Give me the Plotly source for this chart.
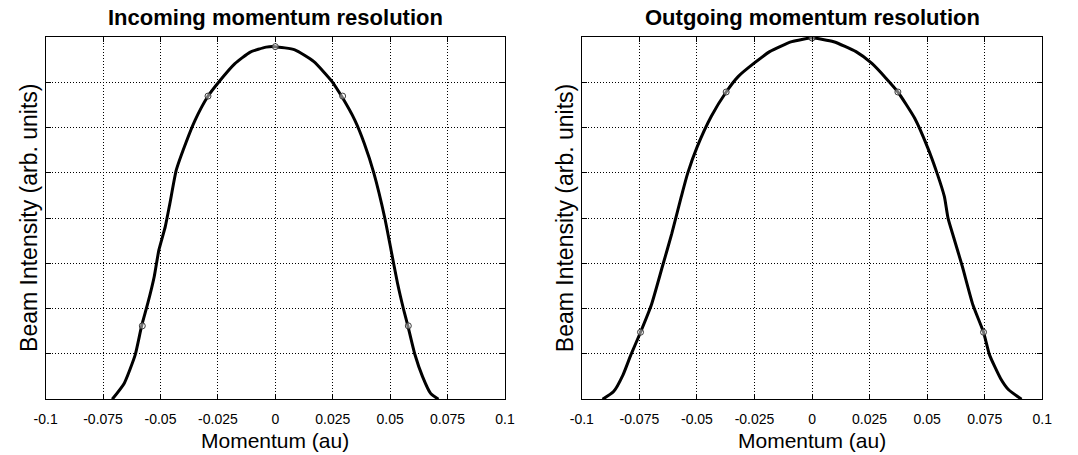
import plotly.graph_objects as go

# Incoming beam profile (momentum in au, intensity in arb. units)
incoming_x = [-0.0710, -0.0658, -0.0610, -0.0582, -0.0555, -0.0527, -0.0507, -0.0479,
              -0.0459, -0.0431, -0.0390, -0.0349, -0.0294, -0.0246, -0.0177, -0.0109,
              -0.0040, 0.0, 0.0085, 0.0168, 0.0247, 0.0288, 0.0346, 0.0387, 0.0429,
              0.0477, 0.0504, 0.0532, 0.0559, 0.0577, 0.0607, 0.0641, 0.0676, 0.0710]
incoming_y = [0.0, 0.35, 0.98, 1.62, 2.12, 2.71, 3.29, 3.81, 4.32, 5.06, 5.65, 6.16,
              6.68, 7.00, 7.40, 7.66, 7.77, 7.78, 7.71, 7.45, 7.01, 6.69, 6.16, 5.65,
              4.99, 3.99, 3.29, 2.56, 1.97, 1.62, 1.00, 0.50, 0.13, 0.0]
incoming_mark_x = [-0.0579, -0.0293, 0.0, 0.0293, 0.0579]
incoming_mark_y = [1.62, 6.69, 7.78, 6.69, 1.62]

# Outgoing beam profile
outgoing_x = [-0.0910, -0.0862, -0.0821, -0.0787, -0.0745, -0.0698, -0.0650, -0.0609,
              -0.0568, -0.0540, -0.0499, -0.0438, -0.0373, -0.0321, -0.0253, -0.0184,
              -0.0088, 0.0, 0.0094, 0.0191, 0.0260, 0.0322, 0.0373, 0.0446, 0.0501,
              0.0543, 0.0575, 0.0591, 0.0619, 0.0653, 0.0699, 0.0745, 0.0771, 0.0819,
              0.0854, 0.0910]
outgoing_y = [0.0, 0.17, 0.54, 0.98, 1.48, 2.08, 2.93, 3.66, 4.47, 4.99, 5.57, 6.24,
              6.78, 7.12, 7.41, 7.67, 7.89, 7.97, 7.89, 7.67, 7.41, 7.08, 6.78, 6.20,
              5.57, 4.99, 4.47, 3.99, 3.51, 2.93, 2.08, 1.48, 0.98, 0.46, 0.21, 0.0]
outgoing_mark_x = [-0.0745, -0.0373, 0.0, 0.0373, 0.0745]
outgoing_mark_y = [1.48, 6.78, 7.97, 6.78, 1.48]

tick_vals = [-0.1, -0.075, -0.05, -0.025, 0.0, 0.025, 0.05, 0.075, 0.1]
tick_text = ["-0.1", "-0.075", "-0.05", "-0.025", "0", "0.025", "0.05", "0.075", "0.1"]
titles = ["Incoming momentum resolution", "Outgoing momentum resolution"]

W, H = 1078, 455
FONT = "Liberation Sans, Arial, sans-serif"

fig = go.Figure()

panels = [
    (incoming_x, incoming_y, incoming_mark_x, incoming_mark_y, "x", "y"),
    (outgoing_x, outgoing_y, outgoing_mark_x, outgoing_mark_y, "x2", "y2"),
]
for cx, cy, mx, my, xa, ya in panels:
    fig.add_trace(go.Scatter(x=cx, y=cy, mode="lines", xaxis=xa, yaxis=ya,
                             line=dict(color="black", width=3, shape="spline",
                                       smoothing=0.5),
                             showlegend=False, hoverinfo="skip"))
    fig.add_trace(go.Scatter(x=mx, y=my, mode="markers", xaxis=xa, yaxis=ya,
                             marker=dict(symbol="circle", size=6,
                                         color="rgba(255,255,255,0.45)",
                                         line=dict(color="#3a3a3a", width=1)),
                             showlegend=False, hoverinfo="skip"))

# plot areas in pixels: (left, right), top/bottom shared
px_dom = [(34.3, 503.3), (581.7, 1051.7)]
top_px, bot_px = 36.7, 399.3
ydom = [1 - bot_px / H, 1 - top_px / H]

common_x = dict(range=[-0.1, 0.1], tickvals=tick_vals, ticktext=tick_text,
                showgrid=True, gridcolor="black", griddash="1px,2px", gridwidth=1,
                zeroline=False, showline=True, linecolor="black", linewidth=1,
                mirror="ticks", ticks="inside", ticklen=5, tickcolor="black",
                ticklabelstandoff=7,
                tickfont=dict(family=FONT, size=14, color="black"))
common_y = dict(range=[0, 8], dtick=1, tick0=0, showticklabels=False,
                showgrid=True, gridcolor="black", griddash="1px,2px", gridwidth=1,
                zeroline=False, showline=True, linecolor="black", linewidth=1,
                mirror="ticks", ticks="inside", ticklen=5, tickcolor="black")

fig.update_layout(
    width=W, height=H,
    margin=dict(l=0, r=0, t=0, b=0),
    paper_bgcolor="white", plot_bgcolor="white",
    xaxis=dict(domain=[px_dom[0][0] / W, px_dom[0][1] / W], anchor="y", **common_x),
    yaxis=dict(domain=ydom, anchor="x", **common_y),
    xaxis2=dict(domain=[px_dom[1][0] / W, px_dom[1][1] / W], anchor="y2", **common_x),
    yaxis2=dict(domain=ydom, anchor="x2", **common_y),
)

annotations = []
for (l, r), title in zip(px_dom, titles):
    cx = (l + r) / 2 / W
    annotations.append(dict(text="<b>%s</b>" % title, x=cx, y=1 - 18 / H,
                            xref="paper", yref="paper", xanchor="center", yanchor="middle",
                            showarrow=False, font=dict(family=FONT, size=22, color="black")))
    annotations.append(dict(text="Momentum (au)", x=cx, y=1 - 440 / H,
                            xref="paper", yref="paper", xanchor="center", yanchor="middle",
                            showarrow=False, font=dict(family=FONT, size=21, color="black")))
    annotations.append(dict(text="Beam Intensity (arb. units)", x=(l - 17) / W,
                            y=1 - ((top_px + bot_px) / 2) / H, textangle=-90,
                            xref="paper", yref="paper", xanchor="center", yanchor="middle",
                            showarrow=False, font=dict(family=FONT, size=23, color="black")))
fig.update_layout(annotations=annotations)

fig.write_html("out.html")
